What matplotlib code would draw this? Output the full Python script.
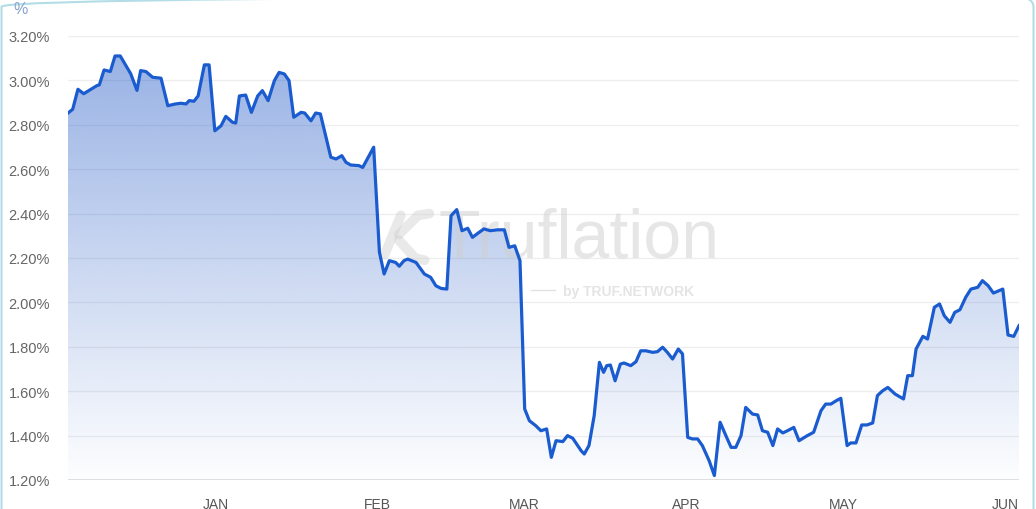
import matplotlib
matplotlib.use("Agg")
import matplotlib.pyplot as plt
import matplotlib.dates as mdates
from matplotlib.patches import Polygon, FancyBboxPatch
import numpy as np
import pandas as pd

# Truflation-style inflation index, Dec 2024 - Jun 2025
# day offsets from 2025-01-01 and values (%)
days = [-28.3, -27.4, -26.4, -25.3, -23.9, -22.8, -22.3, -21.4, -20.2, -19.3,
        -18.3, -16.3, -15.1, -14.4, -13.4, -12.1, -10.5, -9.2, -7.7, -6.7,
        -5.7, -5.1, -4.2, -3.4, -2.2, -1.3, -0.2, 1.0, 1.9, 3.2,
        3.8, 4.5, 5.7, 6.8, 8.0, 8.9, 10.0, 11.2, 12.1, 13.1,
        14.0, 14.9, 16.3, 17.0, 18.2, 19.1, 20.0, 22.0, 23.0, 24.1,
        24.9, 25.8, 27.4, 28.1, 30.2, 31.3, 32.2, 33.2, 34.4, 35.1,
        36.0, 36.7, 38.3, 39.9, 41.1, 42.1, 43.1, 44.2, 45.0, 46.1,
        47.1, 48.2, 49.1, 50.4, 51.3, 52.5, 53.9, 55.2, 56.1, 57.2,
        58.2, 59.1, 60.0, 61.2, 62.2, 63.3, 64.2, 65.1, 66.4, 67.3,
        68.3, 69.9, 70.5, 71.4, 72.4, 73.4, 74.2, 74.8, 75.5, 76.4,
        77.4, 78.1, 79.4, 80.4, 81.3, 82.3, 83.6, 84.5, 85.5, 86.4,
        87.4, 88.5, 89.3, 90.3, 91.2, 92.2, 93.1, 94.4, 95.4, 96.5,
        97.6, 98.6, 99.5, 100.5, 101.4, 102.7, 103.7, 104.6, 105.6, 106.6,
        107.5, 108.5, 109.4, 110.6, 111.6, 113.2, 114.4, 115.8, 116.7, 117.7,
        118.7, 119.6, 120.8, 121.5, 122.5, 123.6, 124.6, 125.7, 126.6, 127.6,
        128.6, 130.0, 131.6, 132.4, 133.3, 134.0, 135.3, 136.2, 137.5, 138.5,
        139.4, 140.5, 141.4, 142.4, 143.5, 144.5, 145.8, 146.7, 147.8, 148.8,
        150.6, 151.6, 152.7, 153.7]
values = [2.853, 2.870, 2.960, 2.940, 2.960, 2.976, 2.980, 3.047, 3.040, 3.110,
          3.110, 3.030, 2.955, 3.044, 3.040, 3.014, 3.010, 2.886, 2.894, 2.897,
          2.894, 2.909, 2.906, 2.930, 3.070, 3.070, 2.773, 2.796, 2.838, 2.811,
          2.808, 2.930, 2.934, 2.856, 2.930, 2.954, 2.909, 2.999, 3.036, 3.029,
          2.999, 2.834, 2.856, 2.853, 2.818, 2.853, 2.849, 2.654, 2.646, 2.661,
          2.631, 2.619, 2.616, 2.608, 2.699, 2.226, 2.128, 2.188, 2.180, 2.163,
          2.188, 2.195, 2.180, 2.128, 2.113, 2.075, 2.063, 2.060, 2.390, 2.418,
          2.323, 2.334, 2.293, 2.316, 2.331, 2.323, 2.327, 2.327, 2.248, 2.255,
          2.188, 1.520, 1.467, 1.445, 1.422, 1.430, 1.302, 1.377, 1.373, 1.400,
          1.388, 1.332, 1.317, 1.355, 1.490, 1.730, 1.685, 1.715, 1.718, 1.647,
          1.722, 1.727, 1.715, 1.733, 1.782, 1.782, 1.775, 1.778, 1.798, 1.775,
          1.745, 1.790, 1.768, 1.392, 1.385, 1.385, 1.355, 1.287, 1.220, 1.460,
          1.400, 1.347, 1.347, 1.400, 1.527, 1.497, 1.493, 1.422, 1.415, 1.355,
          1.430, 1.412, 1.422, 1.437, 1.377, 1.400, 1.415, 1.512, 1.542, 1.542,
          1.557, 1.568, 1.355, 1.367, 1.367, 1.448, 1.448, 1.457, 1.580, 1.602,
          1.617, 1.587, 1.565, 1.670, 1.670, 1.790, 1.847, 1.835, 1.978, 1.993,
          1.940, 1.910, 1.955, 1.967, 2.023, 2.060, 2.068, 2.098, 2.075, 2.042,
          2.060, 1.853, 1.847, 1.895]

month_starts = ["2025-01-01", "2025-02-01", "2025-03-01", "2025-04-01",
                "2025-05-01", "2025-06-01"]
month_labels = ["JAN", "FEB", "MAR", "APR", "MAY", "JUN"]
y_ticks = [1.2, 1.4, 1.6, 1.8, 2.0, 2.2, 2.4, 2.6, 2.8, 3.0, 3.2]

dates = pd.Timestamp("2025-01-01") + pd.to_timedelta(days, unit="D")
xn = mdates.date2num(dates.to_pydatetime())
yv = np.array(values)

line_color = "#1a5ccf"
ymin, ymax = 1.2, 3.2

fig = plt.figure(figsize=(10.36, 5.1), dpi=100, facecolor="white")
ax = fig.add_axes([68 / 1036, 29 / 510, (1019 - 68) / 1036, (481 - 37) / 510])
ax.set_facecolor("white")

# card border (top edge just outside the picture, only the corners show)
card = FancyBboxPatch((1.5 / 1036, -0.05), 1032 / 1036, 1.05 + 2.5 / 510,
                      boxstyle="round,pad=0,rounding_size=0.02",
                      transform=fig.transFigure, facecolor="none",
                      edgecolor="#b3dde6", linewidth=1.5, zorder=0)
fig.patches.append(card)

# grid
for t in y_ticks:
    ax.axhline(t, color="#dcdcdc" if t == ymin else "#eeeeee",
               linewidth=1.2 if t == ymin else 0.9, zorder=0.5)

# gradient fill under the line
grad = np.zeros((256, 1, 4))
rgb = matplotlib.colors.to_rgb("#2a5fc8")
grad[:, 0, :3] = rgb
grad[:, 0, 3] = np.linspace(0.01, 0.50, 256)
im = ax.imshow(grad, extent=[xn[0], xn[-1], ymin, ymax], origin="lower",
               aspect="auto", zorder=1, interpolation="bilinear")
verts = [(xn[0], ymin)] + list(zip(xn, yv)) + [(xn[-1], ymin)]
poly = Polygon(verts, closed=True, facecolor="none", edgecolor="none")
ax.add_patch(poly)
im.set_clip_path(poly)

# watermark
wm = dict(transform=ax.transAxes, zorder=2, family="Liberation Sans",
          color="#cfcfcf", va="center", ha="left")
ax.text(0.390, 0.545, "Truflation", fontsize=49, alpha=0.5, **wm)
ax.text(0.521, 0.426, "by TRUF.NETWORK", fontsize=10, fontweight="bold",
        alpha=0.55, **wm)
ax.plot([0.487, 0.512], [0.427, 0.427], transform=ax.transAxes,
        color="#d6d6d6", linewidth=1, alpha=0.7, zorder=2)
ax.plot([0.333, 0.350], [0.508, 0.596], transform=ax.transAxes,
        color="#cfcfcf", linewidth=7, alpha=0.45, solid_capstyle="round", zorder=2)
ax.plot([0.348, 0.368, 0.380], [0.553, 0.596, 0.600], transform=ax.transAxes,
        color="#cfcfcf", linewidth=7, alpha=0.45, solid_capstyle="round", zorder=2)
ax.plot([0.348, 0.365, 0.375], [0.540, 0.500, 0.495], transform=ax.transAxes,
        color="#cfcfcf", linewidth=7, alpha=0.45, solid_capstyle="round", zorder=2)

# line
ax.plot(xn, yv, color=line_color, linewidth=2.3, solid_joinstyle="round",
        zorder=3)

ax.set_xlim(xn[0], xn[-1])
ax.set_ylim(ymin, ymax)
ax.set_yticks(y_ticks)
ax.set_yticklabels([f"{t:.2f}%" for t in y_ticks])
ax.set_xticks(mdates.date2num(pd.to_datetime(month_starts).to_pydatetime()))
ax.set_xticklabels(month_labels)
ax.tick_params(axis="y", length=0, pad=13, labelsize=10.5, labelcolor="#666666")
ax.tick_params(axis="x", length=0, pad=12, labelsize=10, labelcolor="#555555")
for lbl in ax.get_xticklabels() + ax.get_yticklabels():
    lbl.set_family("Liberation Sans")
for s in ax.spines.values():
    s.set_visible(False)

fig.text(21 / 1036, 1 - 10 / 510, "%", color="#87a3cb", fontsize=11.5,
         family="Liberation Sans", ha="center", va="center")

fig.savefig("out.png", dpi=100, facecolor="white")
